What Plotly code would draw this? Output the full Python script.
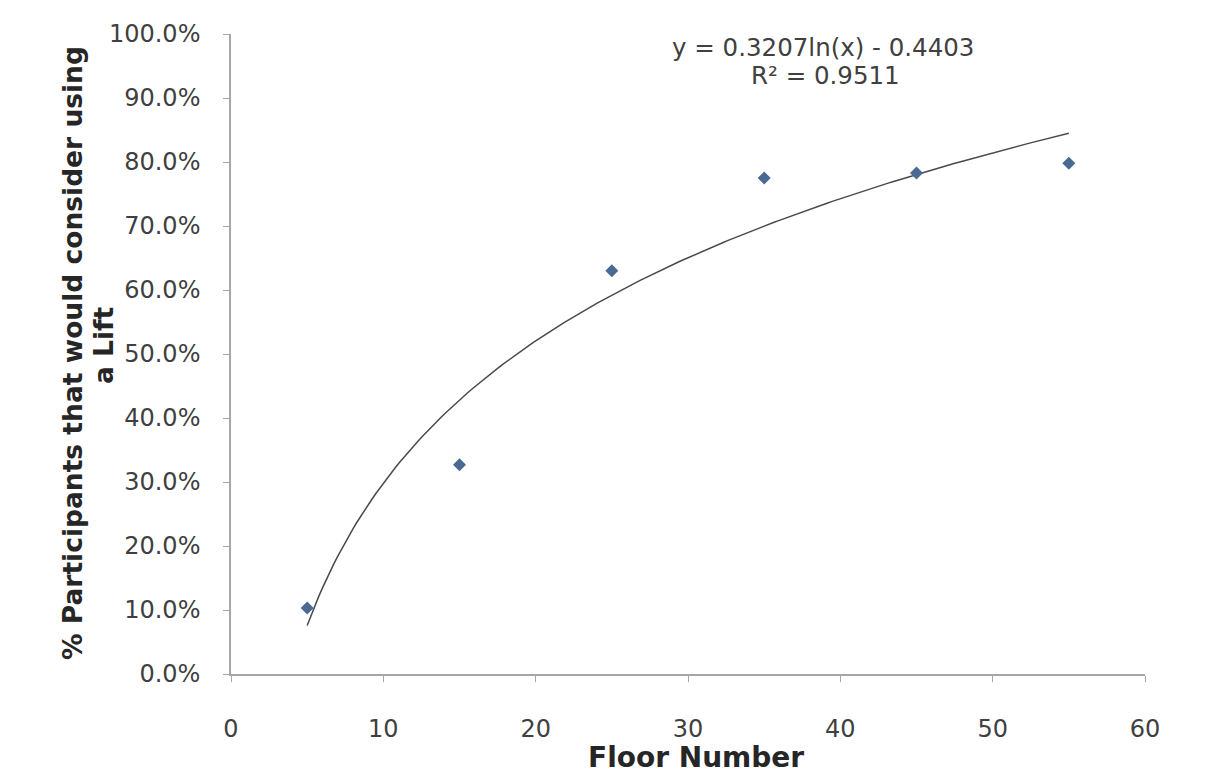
import numpy as np
import plotly.graph_objects as go

floors = [5, 15, 25, 35, 45, 55]
pct = [0.103, 0.327, 0.630, 0.775, 0.783, 0.798]

# logarithmic trendline coefficients as shown in the chart
coef_a = 0.3207
coef_b = -0.4403
r2 = 0.9511

x_tick_vals = [0, 10, 20, 30, 40, 50, 60]
y_tick_vals = [0, 0.1, 0.2, 0.3, 0.4, 0.5, 0.6, 0.7, 0.8, 0.9, 1.0]

y_title_lines = ["% Participants that would consider using", "a Lift"]
x_title = "Floor Number"

xt = np.linspace(min(floors), max(floors), 200)
yt = coef_a * np.log(xt) + coef_b

fig = go.Figure()
fig.add_trace(go.Scatter(x=xt, y=yt, mode="lines",
                         line=dict(color="#4a4a4a", width=1.5), showlegend=False, hoverinfo="skip"))
fig.add_trace(go.Scatter(x=floors, y=pct, mode="markers",
                         marker=dict(symbol="diamond", size=10, color="#4A6A94"), showlegend=False))

font_family = "'DejaVu Sans', sans-serif"
# plot area on screen: x 231..1145, y 34..674 (page has 8px body margin)
PL, PR, PT, PB = 231, 1145, 34, 674
W, H = PR - PL, PB - PT


def px_x(p):
    return (p - PL) / W


def px_y(p):
    return (PB - p) / H


fig.update_layout(
    width=1225, height=783,
    margin=dict(l=PL - 8, r=1225 - PR + 8, t=PT - 8, b=783 - PB + 8),
    paper_bgcolor="white", plot_bgcolor="white",
    font=dict(family=font_family, color="#404040"),
    xaxis=dict(range=[0, 60], tickvals=x_tick_vals, showgrid=False, zeroline=False,
               showline=True, linecolor="#a6a6a6", linewidth=1.5,
               ticks="outside", ticklen=6, tickcolor="#a6a6a6", ticklabelstandoff=26,
               tickfont=dict(size=24, color="#3f3f3f")),
    yaxis=dict(range=[0, 1], tickvals=y_tick_vals, tickformat=".1%", showgrid=False, zeroline=False,
               showline=True, linecolor="#a6a6a6", linewidth=1.5,
               ticks="outside", ticklen=6, tickcolor="#a6a6a6", ticklabelstandoff=18,
               tickfont=dict(size=24, color="#3f3f3f")),
)

title_font = dict(family="'DejaVu Sans', sans-serif", size=26.5, color="#262626")
fig.add_annotation(xref="paper", yref="paper", x=px_x(72), y=px_y(353), text=f"<b>{y_title_lines[0]}</b>",
                   textangle=-90, showarrow=False, xanchor="center", yanchor="middle", font=title_font)
fig.add_annotation(xref="paper", yref="paper", x=px_x(103), y=px_y(345), text=f"<b>{y_title_lines[1]}</b>",
                   textangle=-90, showarrow=False, xanchor="center", yanchor="middle", font=title_font)
fig.add_annotation(xref="paper", yref="paper", x=px_x(696), y=px_y(757), text=f"<b>{x_title}</b>",
                   showarrow=False, xanchor="center", yanchor="middle",
                   font=dict(family="'DejaVu Sans', sans-serif", size=28, color="#262626"))

eq_font = dict(family=font_family, size=24.5, color="#404040")
fig.add_annotation(xref="paper", yref="paper", x=px_x(823), y=px_y(48),
                   text=f"y = {coef_a}ln(x) - {abs(coef_b)}", showarrow=False,
                   xanchor="center", yanchor="middle", font=eq_font)
fig.add_annotation(xref="paper", yref="paper", x=px_x(825), y=px_y(75),
                   text=f"R² = {r2}", showarrow=False,
                   xanchor="center", yanchor="middle", font=eq_font)

fig.write_html("out.html")
